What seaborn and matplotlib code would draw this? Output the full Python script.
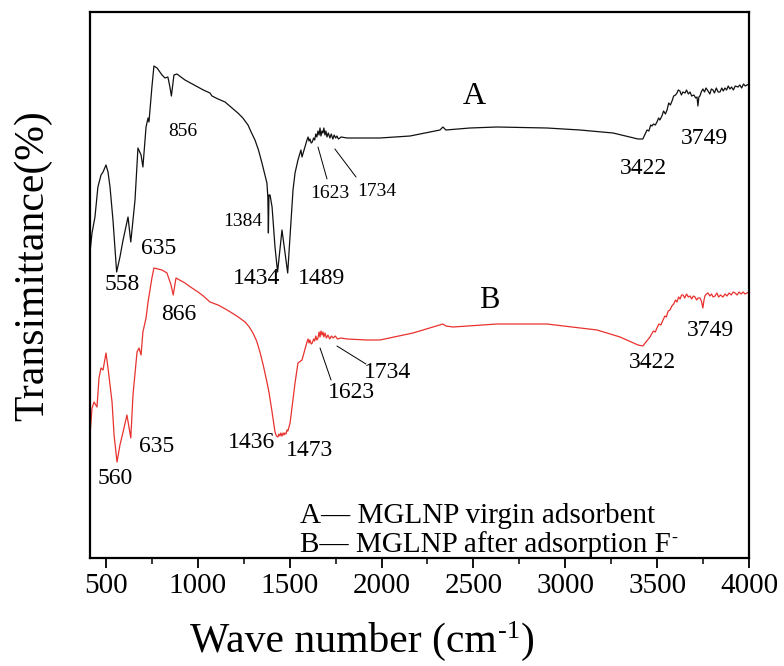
import numpy as np
import pandas as pd
import matplotlib
matplotlib.use("Agg")
import matplotlib.pyplot as plt
import seaborn as sns

# ---- data (wavenumber cm^-1, transmittance a.u.) ----
wn_a = [413, 424, 429, 440, 456, 473, 484, 500, 511, 522, 538, 558, 576, 593, 620, 635,
        658, 674, 691, 701, 718, 729, 734, 750, 761, 778, 805, 821, 837, 848, 856, 870,
        886, 930, 960, 1001, 1030, 1066, 1077, 1110, 1148, 1180, 1218, 1245, 1273, 1290,
        1311, 1330, 1349, 1360, 1376, 1381, 1384, 1387,
        1393, 1404, 1420, 1434, 1458, 1489, 1518, 1529, 1545, 1561, 1567,
        1594, 1600, 1605, 1610, 1617, 1623, 1630, 1636, 1642, 1648, 1654, 1660, 1665, 1670,
        1676, 1681, 1686, 1692, 1697, 1703, 1710, 1719, 1726, 1735, 1742, 1750, 1757, 1765,
        1780, 1812, 1899, 1991, 2155, 2318, 2334,
        2350, 2481, 2628, 2900, 3080, 3260, 3352, 3396, 3422,
        3445, 3455, 3465, 3472, 3480, 3490, 3499, 3508, 3515, 3526, 3535, 3545, 3554, 3563,
        3572, 3581, 3590, 3600,
        3608, 3615, 3624, 3632, 3640, 3652, 3660, 3670, 3679, 3688, 3700, 3710, 3717, 3722,
        3727, 3733, 3740, 3749, 3758, 3766, 3777, 3787, 3795, 3804, 3812, 3822, 3832, 3842,
        3852, 3860, 3869, 3878, 3887, 3896, 3905, 3915, 3925, 3940, 3950, 3960, 3970, 3980,
        3989, 4000]
t_a = [306, 325, 330, 341, 371, 383, 386, 393, 386, 371, 338, 286, 301, 318, 341, 316,
       358, 410, 403, 391, 431, 440, 436, 471, 492, 490, 483, 480, 481, 471, 462, 483,
       484, 478, 475, 471, 468, 465, 462, 459, 456, 451, 445, 440, 433, 426,
       418, 408, 395, 387, 375, 361, 325, 363,
       363, 351, 311, 286, 328, 285, 368, 385, 398, 408, 401,
       418, 421, 417, 419, 415, 416, 420, 418, 424, 421, 427, 423, 430, 422,
       427, 425, 430, 423, 427, 421, 425, 420, 424, 419, 423, 420, 422, 419,
       421, 420, 420, 420, 422, 428, 431,
       428, 430, 431, 430, 428, 425, 421, 419, 419,
       428, 427, 433, 432, 434, 433, 436, 440, 438, 442, 447, 444, 448, 455,
       453, 457, 462, 463,
       465, 468, 467, 463, 466, 465, 468, 464, 466, 462, 463, 460, 461, 452,
       461, 462, 466, 469, 466, 470, 467, 464, 469, 468, 465, 470, 466, 466,
       470, 467, 470, 468, 472, 469, 471, 468, 472, 471, 473, 470, 474, 472,
       473, 474]

wn_b = [413, 424, 435, 451, 462, 473, 484, 500, 511, 533, 544, 560, 576, 593, 614, 635,
        647, 669, 680, 691, 701, 718, 729, 750, 761, 805, 832, 854, 866, 881, 930, 960, 1001,
        1030, 1066, 1110, 1150, 1186, 1220, 1257, 1280, 1300, 1320, 1338, 1357, 1376, 1387,
        1404, 1420, 1428, 1436, 1441, 1447, 1452, 1458, 1464, 1469, 1473, 1480, 1485, 1490,
        1496, 1502, 1529, 1545, 1567,
        1594, 1600, 1605, 1610, 1617, 1623, 1630, 1636, 1642, 1648, 1654, 1660, 1665, 1670,
        1676, 1681, 1686, 1692, 1700, 1708, 1718, 1727, 1736, 1748, 1760, 1780, 1812,
        1921, 1991, 2171, 2334, 2350, 2389, 2628, 2900, 3173, 3298, 3396, 3422,
        3461, 3470, 3480, 3490, 3499, 3510, 3520, 3532, 3542, 3550, 3560, 3570, 3580, 3590,
        3600, 3608, 3617, 3625, 3633, 3641, 3650, 3660, 3670, 3679, 3688, 3697, 3706, 3715,
        3723, 3733, 3741, 3749, 3755, 3760, 3768, 3777, 3787, 3796, 3805, 3815, 3825, 3835,
        3845, 3858, 3870, 3880, 3892, 3903, 3914, 3924, 3935, 3946, 3957, 3968, 3978, 3989,
        4000]
t_b = [123, 150, 156, 151, 180, 190, 188, 205, 190, 156, 123, 96, 113, 126, 143, 120,
       163, 206, 210, 203, 226, 240, 256, 280, 290, 288, 285, 273, 263, 280, 275, 271, 266,
       262, 256, 253, 249, 245, 241, 236, 231, 225, 217, 206, 192, 176, 166,
       146, 126, 122, 121, 124, 122, 125, 122, 125, 123, 125, 124, 128, 127,
       131, 135, 175, 195, 198,
       216, 219, 215, 218, 214, 215, 219, 217, 222, 218, 220, 226, 221, 227,
       223, 226, 221, 225, 220, 223, 219, 222, 220, 222, 219, 220, 219,
       218, 218, 225, 234, 232, 231, 234, 234, 228, 221, 213, 212,
       221, 224, 227, 226, 230, 234, 233, 238, 242, 241, 247, 248, 252, 254,
       258, 256, 261, 259, 263, 263, 260, 264, 261, 262, 259, 262, 261, 258,
       260, 260, 257, 250, 258, 262, 264, 265, 262, 264, 261, 262, 265, 261,
       263, 261, 264, 262, 265, 263, 266, 265, 263, 266, 264, 266, 264, 265,
       266]

x_ticks = [500, 1000, 1500, 2000, 2500, 3000, 3500, 4000]

# peak labels: (text, wn, y, fontsize)
labels_a = [("856", 919, 426, 14), ("1384", 1246, 336, 14), ("1434", 1322, 279, 17),
            ("1489", 1676, 279, 17), ("558", 587, 273, 17), ("635", 788, 310, 17),
            ("1623", 1719, 365, 14), ("1734", 1975, 366, 14), ("3422", 3423, 390, 17),
            ("3749", 3760, 420, 17)]
labels_b = [("866", 897, 244, 17), ("635", 778, 111, 17), ("560", 549, 80, 17),
            ("1436", 1295, 116, 17), ("1473", 1610, 108, 17), ("1623", 1839, 165, 17),
            ("1734", 2035, 185, 17), ("3422", 3477, 195, 17), ("3749", 3788, 228, 17)]
leaders = [((1654, 411), (1703, 379)), ((1746, 409), (1861, 381)),
           ((1665, 210), (1725, 178)), ((1757, 212), (1915, 194))]

df = pd.concat([
    pd.DataFrame({"wn": wn_a, "T": t_a, "sample": "A"}),
    pd.DataFrame({"wn": wn_b, "T": t_b, "sample": "B"}),
])

sns.set_theme(style="white")
plt.rcParams["font.family"] = ["Liberation Serif", "DejaVu Serif"]
plt.rcParams["text.color"] = "black"
plt.rcParams["axes.labelcolor"] = "black"
plt.rcParams["xtick.color"] = "black"

fig = plt.figure(figsize=(7.84, 6.66), dpi=100)
ax = fig.add_axes([90 / 784, 108 / 666, 659 / 784, 546 / 666])

sns.lineplot(data=df, x="wn", y="T", hue="sample", palette={"A": "#111111", "B": "#e8322e"},
             estimator=None, sort=False, linewidth=0.9, legend=False, ax=ax)

ax.set_xlim(413, 4000)
ax.set_ylim(0, 546)
ax.set_yticks([])
ax.set_xticks(x_ticks)
ax.set_xticks([750, 1250, 1750, 2250, 2750, 3250, 3750], minor=True)
ax.tick_params(axis="x", which="major", direction="out", length=7, width=1.3,
               labelsize=21, pad=4, bottom=True, colors="black")
ax.tick_params(axis="x", which="minor", direction="out", length=4, width=1.1, bottom=True)
for s in ax.spines.values():
    s.set_linewidth(1.6)
    s.set_color("black")

ax.set_xlabel("Wave number (cm", fontsize=30, color="black")
xl = ax.xaxis.label
xl.set_horizontalalignment("left")
ax.xaxis.set_label_coords(0.152, -0.118)
ax.annotate("-1", xy=(1, 1), xycoords=xl, xytext=(1, 1), textcoords="offset points",
            fontsize=19, ha="left", va="top", color="black", annotation_clip=False)
ax.annotate(")", xy=(1, 0), xycoords=xl, xytext=(17, 0), textcoords="offset points",
            fontsize=30, ha="left", va="bottom", color="black", annotation_clip=False)
ax.set_ylabel("Transimittance(%)", fontsize=30, color="black")
ax.yaxis.set_label_coords(-0.057, 0.535)

for txt, x, y, fs in labels_a + labels_b:
    ax.text(x, y, txt, fontsize=fs, ha="center", va="center", color="black")
ax.text(2503, 461, "A", fontsize=23, ha="center", va="center")
ax.text(2585, 258, "B", fontsize=22, ha="center", va="center")
for (p0, p1) in leaders:
    ax.annotate("", xy=p0, xytext=p1,
                arrowprops=dict(arrowstyle="-", color="black", lw=0.7, shrinkA=0, shrinkB=0))

ax.text(1556, 42, "A\u2014 MGLNP virgin adsorbent", fontsize=21, ha="left", va="center")
tb = ax.text(1556, 13, "B\u2014 MGLNP after adsorption F", fontsize=21, ha="left", va="center")
ax.annotate("-", xy=(1, 1), xycoords=tb, xytext=(0.5, 1), textcoords="offset points",
            fontsize=13, ha="left", va="top", color="black")

fig.savefig("out.png", dpi=100)
